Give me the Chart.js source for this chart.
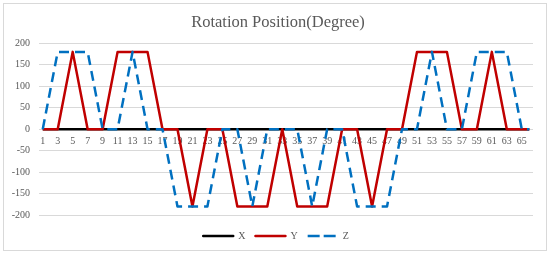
<!DOCTYPE html>
<html>
<head>
<meta charset="utf-8">
<script src="https://cdn.jsdelivr.net/npm/chart.js@4"></script>
<style>
  html, body { margin: 0; padding: 0; background: #fff; }
  canvas { display: block; }
</style>
</head>
<body>
<canvas id="rotationChart" width="550" height="255"></canvas>
<script>
// categories 1..66 (step index)
const steps = Array.from({ length: 66 }, (_, i) => String(i + 1));

const xValues = [
  0, 0, 0, 0, 0, 0, 0, 0, 0, 0,
  0, 0, 0, 0, 0, 0, 0, 0, 0, 0,
  0, 0, 0, 0, 0, 0, 0, 0, 0, 0,
  0, 0, 0, 0, 0, 0, 0, 0, 0, 0,
  0, 0, 0, 0, 0, 0, 0, 0, 0, 0,
  0, 0, 0, 0, 0, 0, 0, 0, 0, 0,
  0, 0, 0, 0, 0, 0
];

const yValues = [
  0, 0, 0, 90, 180, 90, 0, 0, 0, 90,
  180, 180, 180, 180, 180, 90, 0, 0, 0, -90,
  -180, -90, 0, 0, 0, -90, -180, -180, -180, -180,
  -180, -90, 0, -90, -180, -180, -180, -180, -180, -90,
  0, 0, 0, -90, -180, -90, 0, 0, 0, 90,
  180, 180, 180, 180, 180, 90, 0, 0, 0, 90,
  180, 90, 0, 0, 0, 0
];

const zValues = [
  0, 90, 180, 180, 180, 180, 180, 90, 0, 0,
  0, 90, 180, 90, 0, 0, 0, -90, -180, -180,
  -180, -180, -180, -90, 0, 0, 0, -90, -180, -90,
  0, 0, 0, 0, 0, -90, -180, -90, 0, 0,
  0, -90, -180, -180, -180, -180, -180, -90, 0, 0,
  0, 90, 180, 90, 0, 0, 0, 90, 180, 180,
  180, 180, 180, 90, 0, 0
];

const serif = "'Times New Roman', 'Liberation Serif', serif";
const textColor = "#595959";

// marco gris alrededor del grafico
const frame = {
  id: "frame",
  beforeDraw(chart) {
    const ctx = chart.ctx;
    ctx.save();
    ctx.fillStyle = "#ffffff";
    ctx.fillRect(0, 0, chart.width, chart.height);
    ctx.strokeStyle = "#d9d9d9";
    ctx.lineWidth = 1;
    ctx.strokeRect(3.5, 3.5, 543, 247);
    ctx.restore();
  }
};

// centrar titulo y leyenda como en Excel (sobre todo el marco)
const recenter = {
  id: "recenter",
  afterLayout(chart) {
    const shift = (box, dx) => {
      if (!box) return;
      box.left += dx;
      box.right += dx;
    };
    shift(chart.titleBlock, 8.5);
    shift(chart.legend, 6.5);
  }
};

const ctx = document.getElementById("rotationChart").getContext("2d");
const chart = new Chart(ctx, {
  type: "line",
  data: {
    labels: steps,
    datasets: [
      {
        label: "X",
        data: xValues,
        borderColor: "#000000",
        backgroundColor: "#000000",
        borderWidth: 2.5,
        order: 3
      },
      {
        label: "Y",
        data: yValues,
        borderColor: "#c00000",
        backgroundColor: "#c00000",
        borderWidth: 2.5,
        order: 2
      },
      {
        label: "Z",
        data: zValues,
        borderColor: "#0070c0",
        backgroundColor: "#0070c0",
        borderWidth: 2.5,
        borderDash: [10, 6],
        order: 1
      }
    ]
  },
  options: {
    responsive: false,
    devicePixelRatio: 1,
    animation: false,
    layout: { padding: { top: 6, left: 6, right: 17, bottom: 4 } },
    elements: {
      point: { radius: 0 },
      line: { tension: 0, borderJoinStyle: "round" }
    },
    scales: {
      x: {
        position: { y: 0 },
        offset: true,
        grid: { display: false, drawTicks: false },
        border: { display: false },
        ticks: {
          autoSkip: false,
          maxRotation: 0,
          padding: 6,
          color: textColor,
          font: { family: serif, size: 10 },
          callback: (value, index) => (index % 2 === 0 ? steps[index] : "")
        }
      },
      y: {
        min: -200,
        max: 200,
        afterFit: (scale) => { scale.width = 33; },
        grid: { color: "#d9d9d9", lineWidth: 1, drawTicks: false },
        border: { display: false },
        ticks: {
          stepSize: 50,
          padding: 9,
          color: textColor,
          font: { family: serif, size: 10 }
        }
      }
    },
    plugins: {
      title: {
        display: true,
        text: "Rotation Position(Degree)",
        color: textColor,
        font: { family: serif, size: 16.5, weight: "normal" },
        padding: { top: 7, bottom: 10.5 }
      },
      // separador entre el area del grafico y la leyenda
      subtitle: {
        display: true,
        text: " ",
        position: "bottom",
        weight: 500,
        padding: 0,
        font: { size: 5 }
      },
      legend: {
        position: "bottom",
        labels: {
          boxWidth: 30,
          boxHeight: 0,
          padding: 10,
          color: textColor,
          font: { family: serif, size: 10 },
          sort: (a, b) => a.datasetIndex - b.datasetIndex
        }
      },
      tooltip: { enabled: false }
    }
  },
  plugins: [frame, recenter]
});
</script>
</body>
</html>
